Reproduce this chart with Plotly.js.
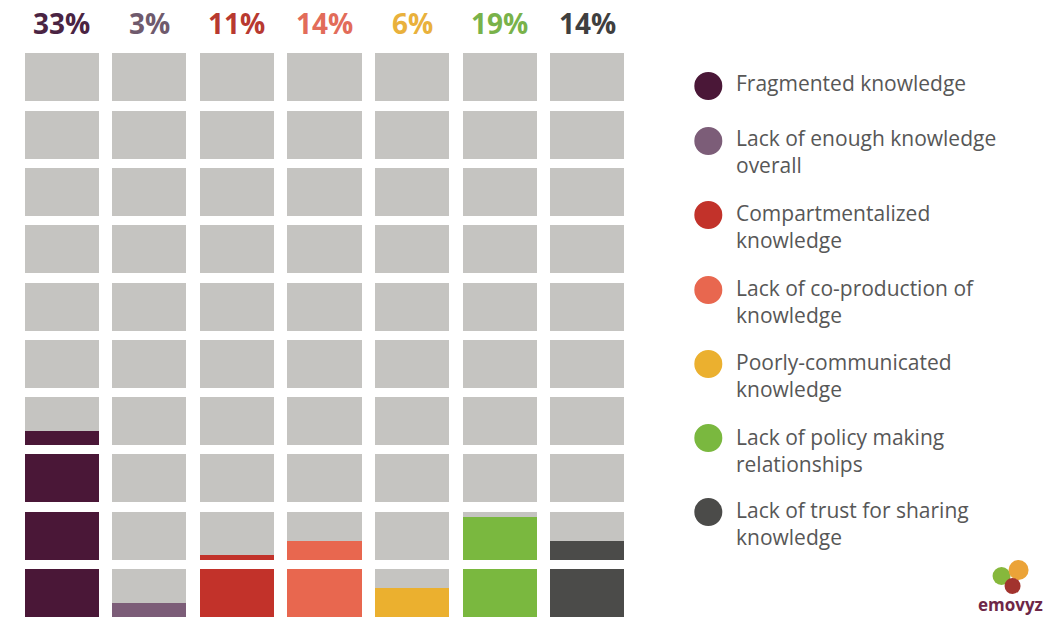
<!DOCTYPE html>
<html>
<head>
<meta charset="utf-8">
<script src="https://cdn.plot.ly/plotly-3.0.1.min.js"></script>
<style>html,body{margin:0;padding:0;background:#fff;}#chart{width:1049px;height:617px;}</style>
</head>
<body>
<div id="chart"></div>
<script>
// ---- data ----
const categories = ["Fragmented knowledge", "Lack of enough knowledge<br>overall", "Compartmentalized<br>knowledge", "Lack of co-production of<br>knowledge", "Poorly-communicated<br>knowledge", "Lack of policy making<br>relationships", "Lack of trust for sharing<br>knowledge"];
const values = [33, 3, 11, 14, 6, 19, 14];   // percent
const seriesColors = ["#4a1737", "#7c5d78", "#c2322a", "#e8674f", "#ebb02f", "#7ab83f", "#4b4b49"];
const labelColors = ["#4a2443", "#6f5a6d", "#b83930", "#e26c5a", "#e9b13c", "#79b24a", "#3f3f3f"];
const rowsPerColumn = 10;     // each cell = 10%
const percentPerCell = 10;

// ---- layout helpers ----
const W = 1049, H = 617;
const L = 18.25, R = 418.25, T = 0, B = 0;
const PW = W - L - R, PH = H - T - B;
const rowPx = 57.3;
const px = x => (x - L) / PW;
const py = y => (H - B - y) / PH;
const cellH = 48 / rowPx;
const font = "'Open Sans', 'Noto Sans', sans-serif";

// grid cells (gray) and fills (colored), built from the data arrays
const gx = [], gb = [], gy = [];
const fx = [], fb = [], fy = [], fc = [];
values.forEach((v, i) => {
  for (let k = 0; k < rowsPerColumn; k++) {
    gx.push(i); gb.push(k); gy.push(cellH);
    const frac = Math.max(0, Math.min(1, v / percentPerCell - k));
    if (frac > 0) { fx.push(i); fb.push(k); fy.push(cellH * frac); fc.push(seriesColors[i]); }
  }
});

const traces = [
  {type: "bar", x: gx, y: gy, base: gb, width: 0.846, marker: {color: "#c5c4c1", line: {width: 0}}, hoverinfo: "skip", showlegend: false},
  {type: "bar", x: fx, y: fy, base: fb, width: 0.846, marker: {color: fc, line: {width: 0}}, hoverinfo: "skip", showlegend: false}
];

const annotations = [];
const shapes = [];
values.forEach((v, i) => {
  annotations.push({x: i, y: (H - 23) / rowPx, xref: "x", yref: "y", text: v + "%", showarrow: false,
    font: {family: font, size: 28, color: labelColors[i], weight: 700}, xanchor: "center", yanchor: "middle"});
});

// legend (manual): circles + labels
const legendRowY = [86, 141, 215, 290, 364, 438, 512];
const legendTextY = [82, 137, 212, 287, 361, 436, 509];
categories.forEach((c, i) => {
  shapes.push({type: "circle", xref: "paper", yref: "paper", xsizemode: "pixel", ysizemode: "pixel",
    xanchor: px(708), yanchor: py(legendRowY[i]), x0: -14, x1: 14, y0: -14, y1: 14,
    fillcolor: seriesColors[i], line: {width: 0}});
  annotations.push({xref: "paper", yref: "paper", x: px(734), y: py(legendTextY[i] - 15), text: c,
    showarrow: false, xanchor: "left", yanchor: "top", align: "left",
    font: {family: font, size: 21, color: "#575757"}});
});

// logo
shapes.push({type: "circle", xref: "paper", yref: "paper", xsizemode: "pixel", ysizemode: "pixel", xanchor: px(1001), yanchor: py(576), x0: -9, x1: 9, y0: -9, y1: 9, fillcolor: "#86b83c", line: {width: 0}});
shapes.push({type: "circle", xref: "paper", yref: "paper", xsizemode: "pixel", ysizemode: "pixel", xanchor: px(1018), yanchor: py(570), x0: -10, x1: 10, y0: -10, y1: 10, fillcolor: "#eba338", line: {width: 0}});
shapes.push({type: "circle", xref: "paper", yref: "paper", xsizemode: "pixel", ysizemode: "pixel", xanchor: px(1012), yanchor: py(586), x0: -8, x1: 8, y0: -8, y1: 8, fillcolor: "#a2332e", line: {width: 0}});
annotations.push({xref: "paper", yref: "paper", x: px(975), y: py(604), text: "emovyz", showarrow: false, xanchor: "left", yanchor: "middle",
  font: {family: font, size: 17, color: "#6e2748", weight: 700}});

const layout = {
  width: W, height: H,
  margin: {l: L, r: R, t: T, b: B, pad: 0},
  paper_bgcolor: "#fff", plot_bgcolor: "#fff",
  barmode: "overlay",
  bargap: 0,
  xaxis: {range: [-0.5, 6.5], visible: false, fixedrange: true},
  yaxis: {range: [0, H / rowPx], visible: false, fixedrange: true},
  showlegend: false,
  annotations: annotations,
  shapes: shapes
};

Plotly.newPlot("chart", traces, layout, {displayModeBar: false, staticPlot: true});
</script>
</body>
</html>
